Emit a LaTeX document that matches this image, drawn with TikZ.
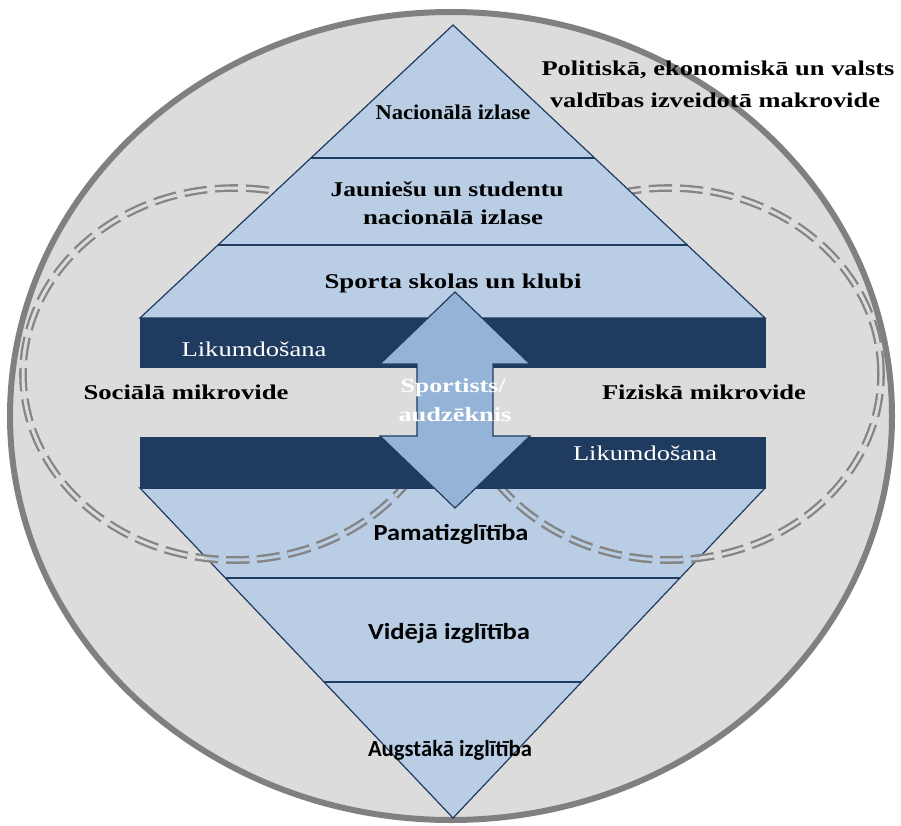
\documentclass[tikz,border=0pt]{standalone}
\usepackage{fontspec}
\setmainfont{Liberation Serif}
\newfontfamily\calfont{Carlito}
\usepackage{graphicx}
\definecolor{ellfill}{HTML}{DCDCDC}
\definecolor{ellline}{HTML}{808080}
\definecolor{pyr}{HTML}{B9CDE5}
\definecolor{navy}{HTML}{1F3B5F}
\definecolor{arrowfill}{HTML}{95B3D7}
\definecolor{dashc}{HTML}{858585}
\newsavebox\mybox
\newcommand\fitx[2]{\sbox\mybox{#2}\pgfmathsetmacro\myfx{#1/(\the\wd\mybox)}\scalebox{\myfx}[1]{\usebox\mybox}}
\tikzset{
  pyrstyle/.style={fill=pyr, draw=navy, line width=1.2pt, line join=miter},
  divline/.style={draw=navy, line width=1.2pt},
  band/.style={fill=navy, draw=navy, line width=1pt},
  dashtwo/.style={draw=dashc, line width=2.3pt, double distance=3pt, dash pattern=on 23pt off 8pt},
  serifb/.style={inner sep=0pt, font=\bfseries\fontsize{21}{24}\selectfont, text=black},
  likum/.style={inner sep=0pt, font=\fontsize{21}{24}\selectfont, text=white},
  sportl/.style={inner sep=0pt, font=\bfseries\fontsize{20}{24}\selectfont, text=white},
  sansb/.style={inner sep=0pt, font=\calfont\bfseries\fontsize{23}{26}\selectfont, text=black},
}
\begin{document}
\begin{tikzpicture}[x=1pt, y=-1pt]
\useasboundingbox (0,0) rectangle (901,826);
\fill[white] (0,0) rectangle (901,826);
% outer ellipse
\draw[ellline, line width=6pt, fill=ellfill] (451,416) ellipse [x radius=441pt, y radius=404pt];
% lower triangle
\filldraw[pyrstyle] (140,488) -- (765,488) -- (453,818) -- cycle;
\draw[divline] (226,578) -- (680,578);
\draw[divline] (324,682) -- (582,682);
% dashed double ellipses
\draw[dashtwo, double=ellfill] (235,374) ellipse [x radius=212pt, y radius=186pt];
\draw[dashtwo, double=ellfill] (669,374) ellipse [x radius=212pt, y radius=186pt];
\begin{scope}
  \clip (140,488) -- (765,488) -- (453,818) -- cycle;
  \draw[dashtwo, double=pyr] (235,374) ellipse [x radius=212pt, y radius=186pt];
  \draw[dashtwo, double=pyr] (669,374) ellipse [x radius=212pt, y radius=186pt];
\end{scope}
% upper pyramid
\filldraw[pyrstyle] (453,25) -- (765,318) -- (140,318) -- cycle;
\draw[divline] (311,158) -- (595,158);
\draw[divline] (218,245) -- (688,245);
% bands
\filldraw[band] (140,318) rectangle (765,367);
\filldraw[band] (140,437) rectangle (765,488);
% double arrow
\filldraw[fill=arrowfill, draw=navy, line width=1.2pt, line join=miter]
  (455,292) -- (530,364) -- (493,364) -- (493,436) -- (530,436) -- (455,508)
  -- (380,436) -- (417,436) -- (417,364) -- (380,364) -- cycle;
% texts
\node[serifb] (nac) at (453,112) {\fitx{155}{Nacionālā izlase}};
\node[serifb] (jaun1) at (447,189) {\fitx{233}{Jauniešu un studentu}};
\node[serifb] (jaun2) at (453,217) {\fitx{180}{nacionālā izlase}};
\node[serifb] (sporta) at (453,283) {\fitx{257}{Sporta skolas un klubi}};
\node[likum] (lik1) at (254,349) {\fitx{145}{Likumdošana}};
\node[likum] (lik2) at (645,453) {\fitx{144}{Likumdošana}};
\node[serifb] (soc) at (186,392) {\fitx{205}{Sociālā mikrovide}};
\node[serifb] (fiz) at (704,392) {\fitx{204}{Fiziskā mikrovide}};
\node[sportl] (sp1) at (453,388) {\fitx{105}{Sportists/}};
\node[sportl] (sp2) at (455,415) {\fitx{113}{audzēknis}};
\node[serifb] (pol1) at (718,70) {\fitx{353}{Politiskā, ekonomiskā un valsts}};
\node[serifb] (pol2) at (715,100) {\fitx{330}{valdības izveidotā makrovide}};
\node[sansb] (pam) at (451,534) {\fitx{155}{Pamatizglītība}};
\node[sansb] (vid) at (449,633) {\fitx{162}{Vidējā izglītība}};
\node[sansb] (aug) at (450,750) {\fitx{164}{Augstākā izglītība}};
\end{tikzpicture}
\end{document}
